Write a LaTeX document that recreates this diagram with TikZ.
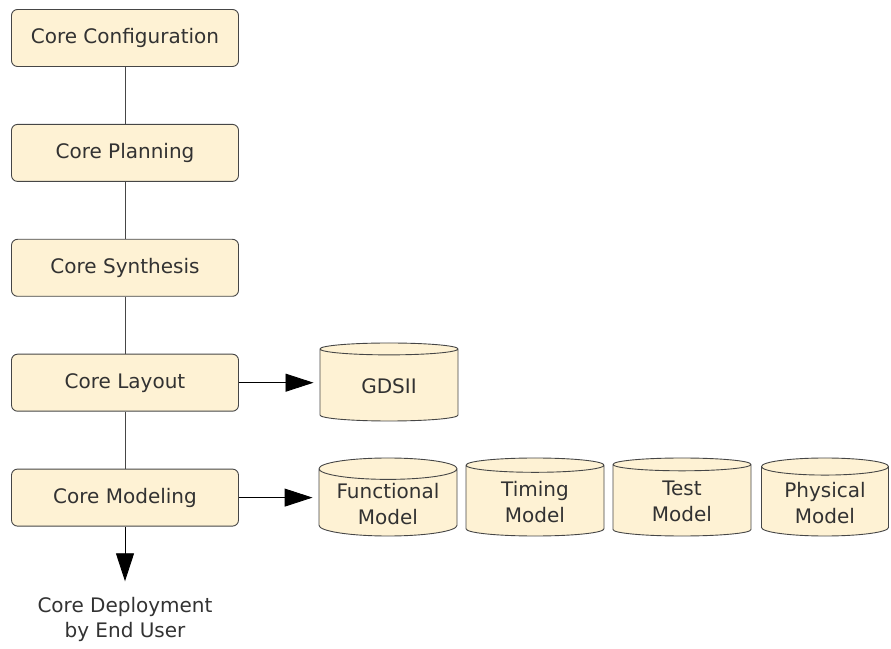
\documentclass[tikz,border=0pt]{standalone}
\usepackage{fontspec}
\setmainfont{DejaVu Sans}
\definecolor{corefill}{RGB}{254,242,212}
\definecolor{coreline}{RGB}{70,70,70}
\definecolor{coretext}{RGB}{50,50,50}
\usetikzlibrary{arrows.meta,positioning,shapes.geometric}

\begin{document}
\begin{tikzpicture}[x=1pt,y=1pt,
  stage/.style={draw=coreline,line width=0.9pt,rounded corners=6pt,fill=corefill,minimum width=227pt,minimum height=57pt,text=coretext,font=\fontsize{20}{26}\selectfont},
  store/.style={draw=coreline,line width=0.9pt,fill=corefill,cylinder,shape border rotate=90,aspect=0.2,minimum width=138pt,minimum height=78pt,align=center,inner sep=2pt,text=coretext,font=\fontsize{20}{26}\selectfont},
  link/.style={draw=coreline,line width=0.9pt},
  flow/.style={-{Triangle[length=28pt,width=18pt]},black,line width=0.9pt,shorten >=6pt}]
  \useasboundingbox (0,0) rectangle (891,648);
  % Core flow
  \node[stage] (config) at (125,610) {Core Configuration};
  \node[stage,below=57pt of config] (plan) {Core Planning};
  \node[stage,below=57pt of plan] (synth) {Core Synthesis};
  \node[stage,below=57pt of synth] (layout) {Core Layout};
  \node[stage,below=57pt of layout] (model) {Core Modeling};
  \draw[link] (config) -- (plan);
  \draw[link] (plan) -- (synth);
  \draw[link] (synth) -- (layout);
  \draw[link] (layout) -- (model);
  % Outputs
  \node[store,anchor=shape center] (gds) at (389,266) {GDSII};
  \node[store,anchor=shape center] (func) at (388,151) {Functional\\Model};
  \node[store,anchor=shape center] (timing) at (535,151) {Timing\\Model};
  \node[store,anchor=shape center] (test) at (682,151) {Test\\Model};
  \node[store,anchor=shape center,minimum width=127pt] (phys) at (825,151) {Physical\\Model};
  \draw[flow] (layout.east) -- (layout.east -| gds.west);
  \draw[flow] (model.east) -- (model.east -| func.west);
  % Deployment
  \node[align=center,text=coretext,font=\fontsize{20}{25}\selectfont] (deploy) at (125,29) {Core Deployment\\by End User};
  \draw[flow,shorten >=12pt] (model) -- (deploy);
\end{tikzpicture}
\end{document}
